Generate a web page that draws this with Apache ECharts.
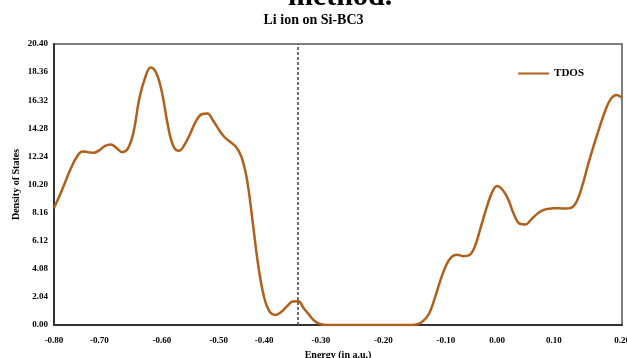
<!DOCTYPE html>
<html>
<head>
<meta charset="utf-8">
<script src="https://cdn.jsdelivr.net/npm/echarts@6/dist/echarts.min.js"></script>
<style>
  html, body { margin: 0; padding: 0; background: #fff; }
  #chart { width: 627px; height: 358px; }
</style>
</head>
<body>
<div id="chart"></div>
<script>
// energy samples are not evenly spaced, so the x axis is a category axis
const tdos = [
  8.5, 9.4, 10.4, 11.4, 12.2, 12.6, 12.55, 12.5, 12.7, 13.0,
  13.1, 12.85, 12.55, 12.8, 14.0, 16.4, 17.9, 18.7, 18.3, 16.9,
  14.6, 13.0, 12.65, 13.1, 13.9, 14.8, 15.3, 15.35, 14.85, 14.2,
  13.65, 13.3, 12.95, 12.2, 10.5, 7.4, 4.2, 2.0, 0.95, 0.73,
  0.95, 1.35, 1.7, 1.72, 1.2, 0.7, 0.25, 0.05, 0, 0,
  0, 0, 0, 0, 0, 0, 0, 0, 0, 0,
  0, 0, 0, 0, 0.05, 0.3, 0.8, 1.9, 3.2, 4.3,
  4.95, 5.1, 5.0, 5.05, 5.6, 6.9, 8.3, 9.5, 10.1, 9.8,
  9.1, 8.0, 7.35, 7.3, 7.65, 8.05, 8.32, 8.43, 8.47, 8.47,
  8.45, 8.5, 8.95, 10.1, 11.6, 13.0, 14.3, 15.5, 16.4, 16.7,
  16.5
];
const samples = tdos.map((v, i) => String(i));
const xTickIndex = [0, 8, 19, 29, 37, 47, 58, 69, 78, 88, 100];
const xTickLabels = ['-0.80', '-0.70', '-0.60', '-0.50', '-0.40', '-0.30', '-0.20', '-0.10', '0.00', '0.10', '0.20'];
const fermiIndex = 42.6;

const chart = echarts.init(document.getElementById('chart'), null, { renderer: 'canvas' });
const serif = 'Liberation Serif';

const option = {
  animation: false,
  textStyle: { fontFamily: serif },
  title: [
    {
      text: 'method.',
      left: 283,
      top: -23,
      textStyle: { fontFamily: serif, fontWeight: 'bold', fontSize: 30, color: '#000' }
    },
    {
      text: 'Li ion on Si-BC3',
      left: 'center',
      top: 8,
      textStyle: { fontFamily: serif, fontWeight: 'bold', fontSize: 14, color: '#000' }
    }
  ],
  legend: {
    right: 38,
    top: 63,
    icon: 'rect',
    itemWidth: 31,
    itemHeight: 2,
    itemGap: 8,
    textStyle: { fontFamily: serif, fontWeight: 'bold', fontSize: 11, color: '#000' },
    data: ['TDOS']
  },
  grid: {
    left: 54,
    right: 5,
    top: 44,
    bottom: 33,
    outerBoundsMode: 'none',
    show: true,
    borderColor: '#555',
    borderWidth: 1.5
  },
  xAxis: {
    type: 'category',
    data: samples,
    boundaryGap: false,
    name: 'Energy (in a.u.)',
    nameLocation: 'middle',
    nameGap: 25,
    nameMoveOverlap: false,
    nameTextStyle: { fontFamily: serif, fontWeight: 'bold', fontSize: 10, color: '#000' },
    axisLine: { lineStyle: { color: '#333', width: 2 } },
    axisTick: { show: false },
    axisLabel: {
      interval: (i) => xTickIndex.includes(i),
      formatter: (v, i) => xTickLabels[xTickIndex.indexOf(i)] || '',
      fontFamily: serif,
      fontWeight: 'bold',
      fontSize: 9,
      color: '#000',
      margin: 11,
      showMinLabel: true,
      showMaxLabel: true,
      hideOverlap: false
    },
    splitLine: { show: false }
  },
  yAxis: {
    type: 'value',
    min: 0,
    max: 20.4,
    interval: 2.04,
    name: 'Density of States',
    nameLocation: 'middle',
    nameGap: 33,
    nameMoveOverlap: false,
    nameTextStyle: { fontFamily: serif, fontWeight: 'bold', fontSize: 10, color: '#000' },
    axisLine: { show: true, lineStyle: { color: '#333', width: 2 } },
    axisTick: { show: false },
    axisLabel: {
      formatter: (v) => v.toFixed(2),
      fontFamily: serif,
      fontWeight: 'bold',
      fontSize: 9,
      color: '#000',
      margin: 6
    },
    splitLine: { show: false }
  },
  series: [
    {
      name: 'TDOS',
      type: 'line',
      data: tdos,
      smooth: 0.4,
      symbol: 'none',
      lineStyle: { color: '#B0601A', width: 2.5 },
      itemStyle: { color: '#B0601A' },
      markLine: {
        silent: true,
        symbol: 'none',
        label: { show: false },
        lineStyle: { color: '#444', type: [3, 2], width: 1.5 },
        data: [{ xAxis: fermiIndex }]
      }
    }
  ]
};

chart.setOption(option);
window.addEventListener('resize', () => chart.resize());
</script>
</body>
</html>
